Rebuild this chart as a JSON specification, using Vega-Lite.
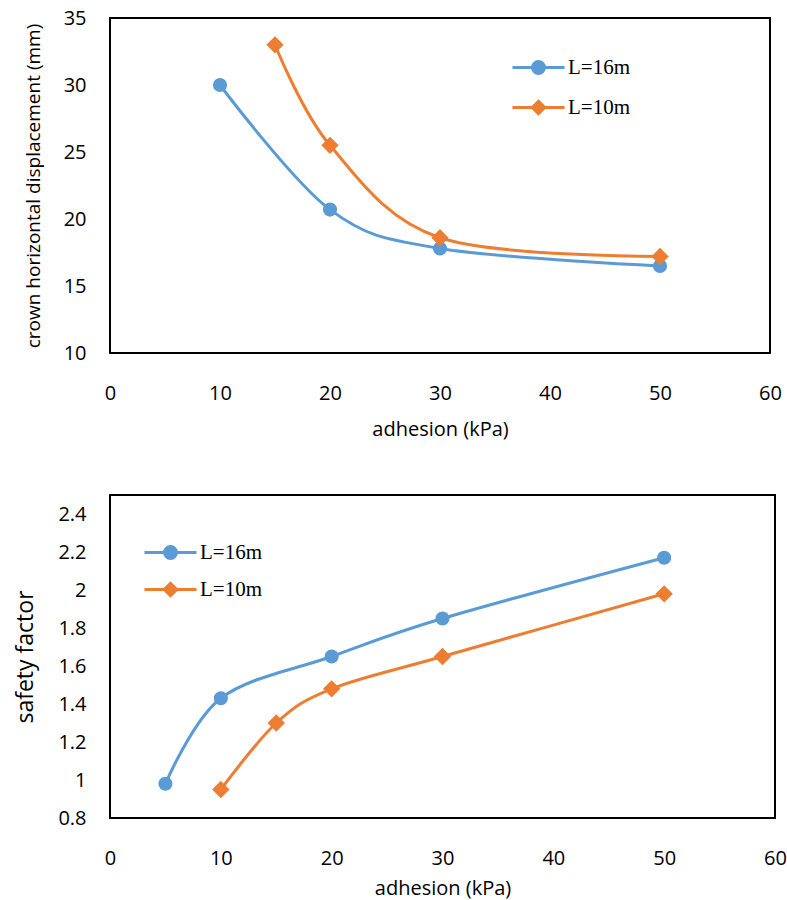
{
  "$schema": "https://vega.github.io/schema/vega-lite/v6.json",
  "padding": {"left": 13, "top": 7, "right": 5, "bottom": 0},
  "spacing": 54,
  "resolve": {"scale": {"color": "independent"}, "legend": {"color": "independent"}},
  "datasets": {
    "disp": [
      {"series": "L=16m", "adhesion": 10, "value": 30},
      {"series": "L=16m", "adhesion": 20, "value": 20.7},
      {"series": "L=16m", "adhesion": 30, "value": 17.8},
      {"series": "L=16m", "adhesion": 50, "value": 16.5},
      {"series": "L=10m", "adhesion": 15, "value": 33},
      {"series": "L=10m", "adhesion": 20, "value": 25.5},
      {"series": "L=10m", "adhesion": 30, "value": 18.6},
      {"series": "L=10m", "adhesion": 50, "value": 17.2}
    ],
    "sf": [
      {"series": "L=16m", "adhesion": 5, "value": 0.98},
      {"series": "L=16m", "adhesion": 10, "value": 1.43},
      {"series": "L=16m", "adhesion": 20, "value": 1.65},
      {"series": "L=16m", "adhesion": 30, "value": 1.85},
      {"series": "L=16m", "adhesion": 50, "value": 2.17},
      {"series": "L=10m", "adhesion": 10, "value": 0.95},
      {"series": "L=10m", "adhesion": 15, "value": 1.3},
      {"series": "L=10m", "adhesion": 20, "value": 1.48},
      {"series": "L=10m", "adhesion": 30, "value": 1.65},
      {"series": "L=10m", "adhesion": 50, "value": 1.98}
    ]
  },
  "config": {
    "font": "Open Sans",
    "view": {"stroke": "#000", "strokeWidth": 2},
    "axis": {
      "grid": false, "ticks": false, "domain": false,
      "labelFont": "Open Sans", "labelFontSize": 20, "labelColor": "#000",
      "titleFont": "Open Sans", "titleColor": "#000", "titleFontWeight": "normal",
      "labelFlush": false, "labelOverlap": false
    },
    "axisX": {"labelPadding": 30, "titleFontSize": 20, "titlePadding": 16},
    "axisY": {"labelPadding": 24, "titlePadding": 20},
    "legend": {
      "orient": "none", "title": null, "padding": 0,
      "labelFont": "Liberation Serif", "labelFontSize": 21, "labelColor": "#000",
      "symbolSize": 400, "symbolStrokeWidth": 3, "labelOffset": 2
    }
  },
  "vconcat": [
    {
      "width": 660,
      "height": 335,
      "data": {"name": "disp"},
      "encoding": {
        "x": {"field": "adhesion", "type": "quantitative", "scale": {"domain": [0, 60], "nice": false}, "axis": {"values": [0, 10, 20, 30, 40, 50, 60], "title": "adhesion (kPa)"}},
        "y": {"field": "value", "type": "quantitative", "scale": {"domain": [10, 35], "nice": false}, "axis": {"values": [10, 15, 20, 25, 30, 35], "title": "crown horizontal displacement (mm)", "titleFontSize": 19}}
      },
      "layer": [
        {
          "mark": {"type": "line", "interpolate": "cardinal", "strokeWidth": 3},
          "encoding": {
            "color": {
              "field": "series", "type": "nominal",
              "scale": {"domain": ["L=16m", "L=10m"], "range": ["#5B9BD5", "#ED7D31"]},
              "legend": {
                "legendX": 433, "legendY": 38, "rowPadding": 15,
                "encode": {
                  "symbols": {
                    "update": {
                      "shape": {"signal": "datum.value === 'L=16m' ? 'M-4.2,0H1M-1.0,0A0.55,0.55,0,1,1,-2.2,0A0.55,0.55,0,1,1,-1.0,0Z' : 'M-4.2,0H1M-1.6,-0.62L-0.98,0L-1.6,0.62L-2.22,0Z'"},
                      "fill": {"signal": "datum.value === 'L=16m' ? '#5B9BD5' : '#ED7D31'"},
                      "stroke": {"signal": "datum.value === 'L=16m' ? '#5B9BD5' : '#ED7D31'"},
                      "strokeWidth": {"value": 3},
                      "opacity": {"value": 1}
                    }
                  }
                }
              }
            }
          }
        },
        {
          "transform": [{"filter": "datum.series === 'L=16m'"}],
          "mark": {"type": "point", "filled": true, "shape": "circle", "size": 200, "color": "#5B9BD5", "opacity": 1}
        },
        {
          "transform": [{"filter": "datum.series === 'L=10m'"}],
          "mark": {"type": "point", "filled": true, "shape": "diamond", "size": 300, "color": "#ED7D31", "opacity": 1}
        }
      ]
    },
    {
      "width": 665,
      "height": 323,
      "data": {"name": "sf"},
      "encoding": {
        "x": {"field": "adhesion", "type": "quantitative", "scale": {"domain": [0, 60], "nice": false}, "axis": {"values": [0, 10, 20, 30, 40, 50, 60], "title": "adhesion (kPa)", "titlePadding": 10}},
        "y": {"field": "value", "type": "quantitative", "scale": {"domain": [0.8, 2.5], "nice": false}, "axis": {"values": [0.8, 1, 1.2, 1.4, 1.6, 1.8, 2, 2.2, 2.4], "format": "~g", "title": "safety factor", "titleFontSize": 23}}
      },
      "layer": [
        {
          "mark": {"type": "line", "interpolate": "cardinal", "strokeWidth": 3},
          "encoding": {
            "color": {
              "field": "series", "type": "nominal",
              "scale": {"domain": ["L=16m", "L=10m"], "range": ["#5B9BD5", "#ED7D31"]},
              "legend": {
                "legendX": 65, "legendY": 46, "rowPadding": 12,
                "encode": {
                  "symbols": {
                    "update": {
                      "shape": {"signal": "datum.value === 'L=16m' ? 'M-4.2,0H1M-1.0,0A0.55,0.55,0,1,1,-2.2,0A0.55,0.55,0,1,1,-1.0,0Z' : 'M-4.2,0H1M-1.6,-0.62L-0.98,0L-1.6,0.62L-2.22,0Z'"},
                      "fill": {"signal": "datum.value === 'L=16m' ? '#5B9BD5' : '#ED7D31'"},
                      "stroke": {"signal": "datum.value === 'L=16m' ? '#5B9BD5' : '#ED7D31'"},
                      "strokeWidth": {"value": 3},
                      "opacity": {"value": 1}
                    }
                  }
                }
              }
            }
          }
        },
        {
          "transform": [{"filter": "datum.series === 'L=16m'"}],
          "mark": {"type": "point", "filled": true, "shape": "circle", "size": 200, "color": "#5B9BD5", "opacity": 1}
        },
        {
          "transform": [{"filter": "datum.series === 'L=10m'"}],
          "mark": {"type": "point", "filled": true, "shape": "diamond", "size": 300, "color": "#ED7D31", "opacity": 1}
        }
      ]
    }
  ]
}
